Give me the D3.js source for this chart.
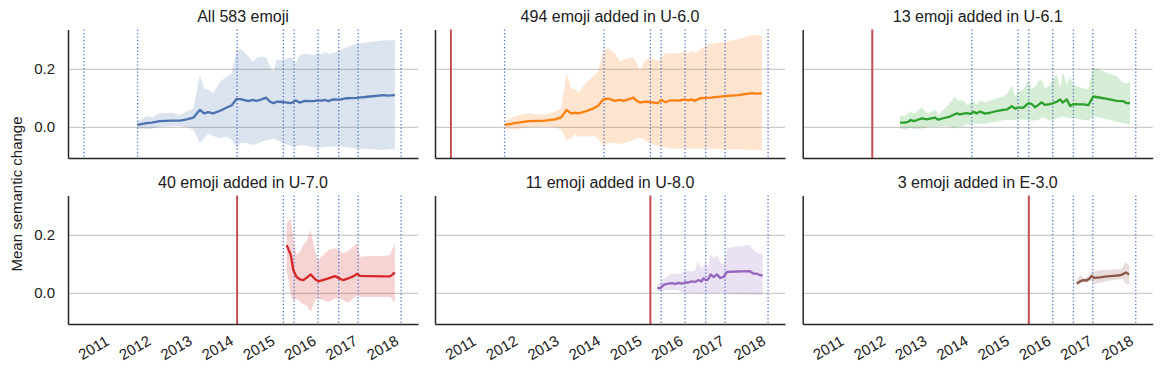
<!DOCTYPE html>
<html>
<head>
<meta charset="utf-8">
<script src="https://cdn.jsdelivr.net/npm/d3@7"></script>
<style>
  body { margin: 0; background: #fff; }
  text { font-family: "Liberation Sans", Arial, sans-serif; fill: #202020; }
</style>
</head>
<body>
<div id="wrapper"></div>
<script>
// tick labels and release dates (decimal years)
const yearTicks = [2011, 2012, 2013, 2014, 2015, 2016, 2017, 2018];
const valueTicks = [0.0, 0.2];
const releases = [2010.78, 2012.08, 2014.49, 2015.61, 2015.87, 2016.45, 2016.95, 2017.42, 2018.46];
const titles = ["All 583 emoji", "494 emoji added in U-6.0", "13 emoji added in U-6.1",
  "40 emoji added in U-7.0", "11 emoji added in U-8.0", "3 emoji added in E-3.0"];

// All emoji
const allT = [2012.07, 2012.30, 2012.42, 2012.62, 2012.91, 2013.11, 2013.27, 2013.43, 2013.59, 2013.69, 2013.79, 2013.91, 2014.08, 2014.24, 2014.36, 2014.48, 2014.60, 2014.76, 2014.87, 2014.96, 2015.08, 2015.19, 2015.29, 2015.37, 2015.45, 2015.61, 2015.79, 2015.91, 2016.01, 2016.13, 2016.34, 2016.44, 2016.54, 2016.62, 2016.70, 2016.82, 2016.98, 2017.14, 2017.38, 2017.71, 2018.03, 2018.15, 2018.31];
const allMean = [.007, .013, .015, .020, .022, .022, .026, .032, .059, .047, .051, .047, .056, .067, .075, .097, .095, .089, .093, .090, .095, .101, .087, .082, .087, .086, .082, .091, .084, .090, .089, .092, .091, .093, .089, .095, .094, .099, .100, .105, .110, .108, .110];
const allHi = [.018, .038, .033, .047, .049, .041, .053, .064, .179, .133, .128, .116, .156, .174, .185, .266, .268, .243, .225, .237, .243, .240, .208, .191, .231, .231, .240, .220, .248, .252, .248, .254, .251, .259, .252, .254, .266, .275, .286, .293, .298, .299, .300];
const allLo = [-.005, -.007, -.006, .001, .003, .003, -.001, -.010, -.056, -.039, -.024, -.031, -.039, -.033, -.045, -.068, -.054, -.056, -.062, -.059, -.051, -.045, -.043, -.039, -.045, -.056, -.066, -.068, -.062, -.062, -.070, -.074, -.070, -.068, -.068, -.068, -.066, -.070, -.074, -.076, -.079, -.077, -.077];

// U-6.0
const u60T = [2012.09, 2012.33, 2012.66, 2013.06, 2013.30, 2013.45, 2013.58, 2013.69, 2013.79, 2013.87, 2014.07, 2014.23, 2014.35, 2014.47, 2014.59, 2014.75, 2014.88, 2014.96, 2015.08, 2015.20, 2015.28, 2015.36, 2015.48, 2015.60, 2015.79, 2015.88, 2015.98, 2016.09, 2016.33, 2016.43, 2016.53, 2016.61, 2016.69, 2016.81, 2016.97, 2017.09, 2017.18, 2017.42, 2017.74, 2018.06, 2018.18, 2018.31];
const u60Mean = [.007, .013, .020, .022, .026, .033, .059, .047, .049, .047, .055, .064, .074, .095, .098, .090, .093, .090, .095, .101, .090, .084, .087, .086, .082, .093, .085, .092, .091, .095, .092, .095, .090, .099, .100, .101, .103, .106, .110, .117, .115, .116];
const u60Hi = [.018, .038, .047, .041, .053, .064, .185, .133, .130, .118, .156, .174, .191, .266, .271, .254, .225, .233, .237, .240, .220, .191, .231, .237, .229, .243, .254, .254, .254, .260, .254, .263, .252, .266, .283, .286, .289, .294, .302, .317, .316, .314];
const u60Lo = [-.005, -.008, -.001, .001, -.001, -.010, -.045, -.039, -.024, -.033, -.033, -.031, -.039, -.068, -.054, -.056, -.059, -.056, -.051, -.045, -.040, -.036, -.045, -.056, -.066, -.068, -.070, -.074, -.074, -.074, -.074, -.074, -.074, -.074, -.074, -.075, -.075, -.076, -.077, -.079, -.079, -.079];

// U-6.1
const u61T = [2012.75, 2012.87, 2012.95, 2013.01, 2013.09, 2013.17, 2013.28, 2013.40, 2013.48, 2013.60, 2013.68, 2013.80, 2013.96, 2014.08, 2014.14, 2014.20, 2014.29, 2014.37, 2014.45, 2014.53, 2014.61, 2014.69, 2014.81, 2014.93, 2015.09, 2015.25, 2015.35, 2015.46, 2015.54, 2015.62, 2015.74, 2015.86, 2015.94, 2016.02, 2016.10, 2016.18, 2016.26, 2016.38, 2016.46, 2016.55, 2016.63, 2016.69, 2016.79, 2016.87, 2016.95, 2017.19, 2017.31, 2017.43, 2017.68, 2018.00, 2018.16, 2018.24, 2018.32];
const u61Mean = [.015, .015, .018, .024, .020, .024, .030, .026, .029, .032, .025, .030, .036, .044, .047, .043, .046, .048, .045, .052, .047, .053, .046, .049, .055, .059, .061, .072, .063, .067, .067, .082, .079, .068, .076, .085, .076, .079, .082, .087, .095, .084, .095, .072, .079, .078, .075, .105, .099, .090, .089, .082, .082];
const u61Hi = [.038, .036, .047, .053, .045, .056, .068, .047, .049, .061, .041, .059, .082, .105, .093, .090, .091, .076, .082, .091, .076, .093, .084, .091, .099, .105, .114, .145, .105, .122, .128, .162, .130, .139, .156, .164, .133, .145, .168, .179, .133, .191, .145, .174, .145, .133, .130, .205, .191, .174, .151, .151, .156];
const u61Lo = [-.005, -.010, -.005, -.002, -.008, -.006, -.005, -.002, .001, .001, .001, .003, .001, -.005, -.001, .001, .003, .010, .007, .013, .010, .013, .010, .015, .018, .022, .024, .026, .022, .026, .026, .024, .022, .022, .024, .033, .030, .022, .024, .030, .033, .036, .033, .030, .033, .024, .022, .036, .030, .018, .013, .010, .008];

// U-7.0
const u70T = [2015.69, 2015.79, 2015.85, 2015.93, 2016.01, 2016.09, 2016.17, 2016.27, 2016.38, 2016.46, 2016.58, 2016.70, 2016.86, 2016.94, 2017.06, 2017.18, 2017.30, 2017.40, 2017.47, 2017.71, 2018.03, 2018.19, 2018.26, 2018.31];
const u70Mean = [.165, .131, .079, .055, .047, .044, .052, .064, .047, .040, .045, .050, .058, .052, .044, .050, .057, .066, .059, .058, .057, .057, .064, .071];
const u70Hi = [.240, .258, .188, .131, .142, .165, .177, .217, .142, .113, .131, .148, .154, .151, .136, .145, .160, .171, .125, .127, .127, .131, .154, .171];
const u70Lo = [.080, -.008, -.025, -.020, -.029, -.040, -.043, -.065, -.025, -.020, -.025, -.031, -.020, -.017, -.025, -.034, -.020, -.008, -.014, -.014, -.014, -.014, -.025, -.031];

// U-8.0
const u80T = [2015.78, 2015.86, 2015.92, 2016.01, 2016.13, 2016.21, 2016.29, 2016.37, 2016.45, 2016.53, 2016.61, 2016.69, 2016.77, 2016.85, 2016.89, 2016.96, 2017.01, 2017.07, 2017.14, 2017.22, 2017.30, 2017.38, 2017.47, 2017.70, 2018.02, 2018.10, 2018.18, 2018.27, 2018.33];
const u80Mean = [.017, .017, .027, .031, .034, .031, .035, .032, .036, .036, .040, .038, .044, .040, .050, .044, .047, .064, .055, .064, .052, .055, .073, .074, .075, .067, .067, .061, .061];
const u80Hi = [.029, .038, .047, .055, .065, .066, .066, .068, .075, .077, .073, .079, .108, .084, .094, .101, .090, .136, .119, .131, .108, .096, .154, .160, .165, .148, .140, .135, .131];
const u80Lo = [.009, .003, .006, .009, .010, .010, .008, .003, .001, -.001, .000, .001, -.001, -.002, -.001, .000, .001, -.001, -.002, -.001, .001, -.001, -.002, -.005, -.006, -.006, -.006, -.006, -.006];

// E-3.0
const e30T = [2017.03, 2017.11, 2017.19, 2017.27, 2017.34, 2017.39, 2017.45, 2017.59, 2017.76, 2017.92, 2018.08, 2018.14, 2018.22, 2018.30];
const e30Mean = [.032, .040, .044, .043, .050, .059, .052, .054, .057, .059, .061, .064, .071, .064];
const e30Hi = [.040, .064, .050, .055, .061, .073, .075, .079, .079, .082, .082, .087, .108, .094];
const e30Lo = [.027, .032, .038, .036, .040, .040, .032, .036, .040, .045, .047, .050, .032, .029];

const colors = ["#4c72b0", "#ff7f0e", "#2ca02c", "#d62728", "#9467bd", "#8c564b"];

let dimensions = {
  width: 1162,
  height: 376,
  panelWidth: 350,
  panelHeight: 128.5,
  lefts: [68, 435, 802.7],
  tops: [29.5, 195.5]
}

const panels = [
  {t: allT, mean: allMean, lo: allLo, hi: allHi, release: -1},
  {t: u60T, mean: u60Mean, lo: u60Lo, hi: u60Hi, release: 0},
  {t: u61T, mean: u61Mean, lo: u61Lo, hi: u61Hi, release: 1},
  {t: u70T, mean: u70Mean, lo: u70Lo, hi: u70Hi, release: 2},
  {t: u80T, mean: u80Mean, lo: u80Lo, hi: u80Hi, release: 3},
  {t: e30T, mean: e30Mean, lo: e30Lo, hi: e30Hi, release: 4}
];

let wrapper = d3.select("#wrapper").append("svg")
    .attr("width", dimensions.width)
    .attr("height", dimensions.height);

let xScale = d3.scaleLinear()
    .domain([2010.395, 2018.87])
    .range([0, dimensions.panelWidth]);
let yScale = d3.scaleLinear()
    .domain([-0.107, 0.336])
    .range([dimensions.panelHeight, 0]);

panels.forEach((p, i) => {
  const col = i % 3, row = Math.floor(i / 3);
  const g = wrapper.append("g")
      .attr("transform", `translate(${dimensions.lefts[col]}, ${dimensions.tops[row]})`);
  const pts = p.t.map((t, k) => ({t: t, m: p.mean[k], lo: p.lo[k], hi: p.hi[k]}));

  // grid
  const grid = g.append("g").call(d3.axisLeft(yScale).tickValues(valueTicks)
      .tickSize(-dimensions.panelWidth).tickFormat(""));
  grid.select(".domain").remove();
  grid.selectAll("line").attr("stroke", "#cccccc").attr("stroke-width", 1.3);

  // band
  g.append("path")
      .datum(pts)
      .attr("fill", colors[i])
      .attr("fill-opacity", 0.2)
      .attr("d", d3.area().x(d => xScale(d.t)).y0(d => yScale(d.lo)).y1(d => yScale(d.hi)));

  // later releases, dotted
  g.selectAll(".rel")
      .data(releases.filter((r, k) => k > p.release))
      .enter()
      .append("line")
      .attr("class", "rel")
      .attr("x1", d => xScale(d)).attr("x2", d => xScale(d))
      .attr("y1", 0).attr("y2", dimensions.panelHeight)
      .attr("stroke", "#4c72c4")
      .attr("stroke-width", 1.3)
      .attr("stroke-dasharray", "1.3,2.2");

  // own release
  if (p.release >= 0) {
    g.append("line")
        .attr("x1", xScale(releases[p.release])).attr("x2", xScale(releases[p.release]))
        .attr("y1", 0).attr("y2", dimensions.panelHeight)
        .attr("stroke", "#c44e52")
        .attr("stroke-width", 2);
  }

  // mean line
  g.append("path")
      .datum(pts)
      .attr("fill", "none")
      .attr("stroke", colors[i])
      .attr("stroke-width", 2.3)
      .attr("stroke-linejoin", "round")
      .attr("d", d3.line().x(d => xScale(d.t)).y(d => yScale(d.m)));

  // y axis
  const yAxis = g.append("g").call(d3.axisLeft(yScale).tickValues(valueTicks)
      .tickSize(0).tickSizeOuter(0).tickPadding(13)
      .tickFormat(col === 0 ? d3.format(".1f") : ""));
  yAxis.select(".domain").attr("stroke", "#262626").attr("stroke-width", 1.5);
  yAxis.selectAll("text").style("font-size", "15px").attr("fill", "#202020");

  // x axis
  const xAxis = g.append("g")
      .attr("transform", `translate(0, ${dimensions.panelHeight})`)
      .call(d3.axisBottom(xScale).tickValues(yearTicks)
        .tickSize(0).tickSizeOuter(0)
        .tickFormat(row === 1 ? d3.format("d") : ""));
  xAxis.select(".domain").attr("stroke", "#262626").attr("stroke-width", 1.5);
  xAxis.selectAll("text")
      .attr("y", 0).attr("dy", null)
      .attr("text-anchor", "middle")
      .attr("dominant-baseline", "central")
      .attr("transform", "translate(0, 23.5) rotate(-30)")
      .style("font-size", "15px")
      .attr("fill", "#202020");

  // Title
  g.append("text")
      .attr("x", dimensions.panelWidth / 2)
      .attr("y", -7.5)
      .attr("text-anchor", "middle")
      .style("font-size", "16px")
      .text(titles[i]);
});

// Y label
wrapper.append("text")
    .attr("text-anchor", "middle")
    .attr("dominant-baseline", "central")
    .attr("transform", "translate(16, 194) rotate(-90)")
    .style("font-size", "15px")
    .text("Mean semantic change");
</script>
</body>
</html>
